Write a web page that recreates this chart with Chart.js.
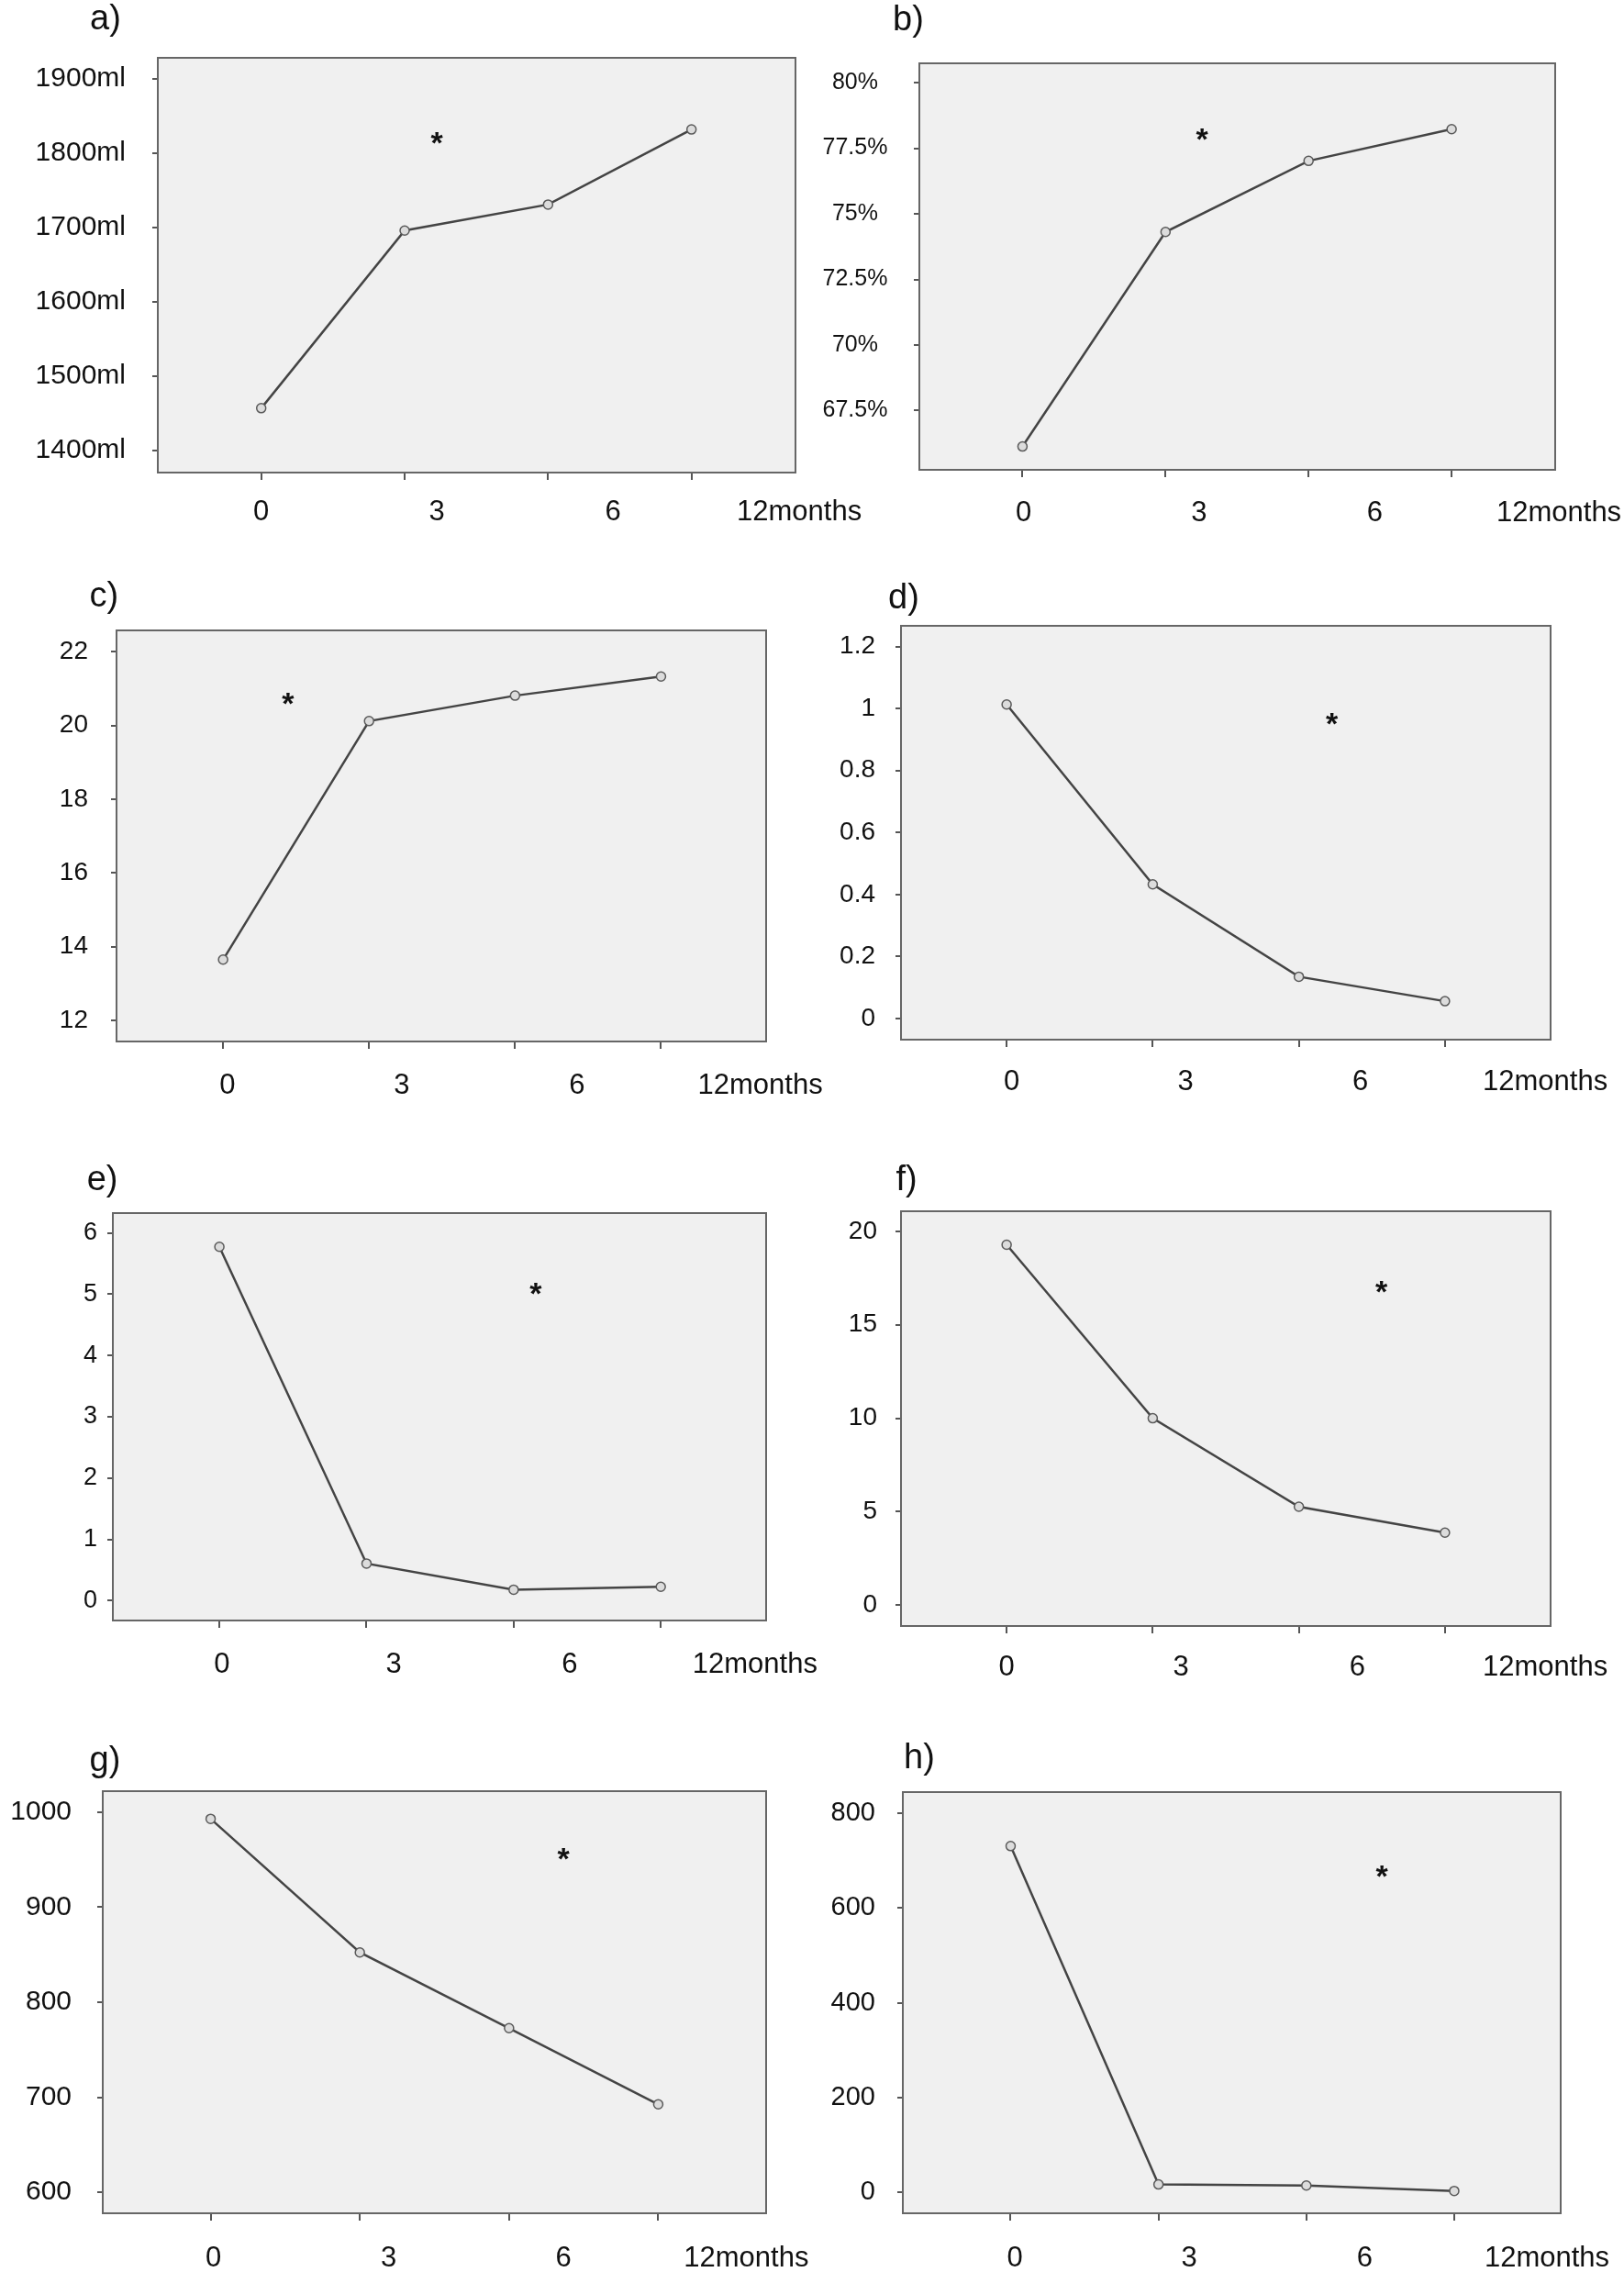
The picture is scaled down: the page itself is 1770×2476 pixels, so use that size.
<!DOCTYPE html>
<html><head><meta charset="utf-8">
<script src="https://cdn.jsdelivr.net/npm/chart.js@4.4.1/dist/chart.umd.min.js"></script>
<style>
html,body{margin:0;padding:0;background:#fff;overflow:hidden;}
#page{position:relative;width:1770px;height:2476px;overflow:hidden;background:#fff;}
canvas{position:absolute;}
.ttl{position:absolute;font-family:"Liberation Sans",Arial,sans-serif;font-size:38px;line-height:38px;color:#111;white-space:nowrap;}
</style></head><body><div id="page"></div>
<script>
// ---------- data ----------
const months = ['0', '3', '6', '12months'];
const monthIndex = [0, 1, 2, 3];

const valuesA = [1457, 1696, 1731, 1832];
const valuesB = [66.13, 74.31, 77.02, 78.23];
const valuesC = [13.65, 20.12, 20.81, 21.33];
const valuesD = [1.013, 0.433, 0.135, 0.056];
const valuesE = [5.775, 0.605, 0.178, 0.226];
const valuesF = [19.28, 10.0, 5.27, 3.885];
const valuesG = [992.9, 852.4, 772.7, 692.6];
const valuesH = [731, 16.7, 14.3, 2.9];

const yTicksA = [1400, 1500, 1600, 1700, 1800, 1900];
const yLabelsA = ['1400ml', '1500ml', '1600ml', '1700ml', '1800ml', '1900ml'];
const yTicksB = [67.5, 70, 72.5, 75, 77.5, 80];
const yLabelsB = ['67.5%', '70%', '72.5%', '75%', '77.5%', '80%'];
const yTicksC = [12, 14, 16, 18, 20, 22];
const yLabelsC = ['12', '14', '16', '18', '20', '22'];
const yTicksD = [0, 0.2, 0.4, 0.6, 0.8, 1, 1.2];
const yLabelsD = ['0', '0.2', '0.4', '0.6', '0.8', '1', '1.2'];
const yTicksE = [0, 1, 2, 3, 4, 5, 6];
const yLabelsE = ['0', '1', '2', '3', '4', '5', '6'];
const yTicksF = [0, 5, 10, 15, 20];
const yLabelsF = ['0', '5', '10', '15', '20'];
const yTicksG = [600, 700, 800, 900, 1000];
const yLabelsG = ['600', '700', '800', '900', '1000'];
const yTicksH = [0, 200, 400, 600, 800];
const yLabelsH = ['0', '200', '400', '600', '800'];

// significance marker "*" (x in month-index units, y in value units)
const starA = [1.224, 1820];
const starB = [1.256, 78.02];
const starC = [0.444, 20.72];
const starD = [2.226, 0.966];
const starE = [2.15, 5.09];
const starF = [2.565, 17.0];
const starG = [2.365, 955.7];
const starH = [2.51, 676.7];

// ---------- layout ----------
const FONT = '"Liberation Sans", Arial, sans-serif';
const panels = [
  {t:'a)', values:valuesA, yTicks:yTicksA, yLabels:yLabelsA, star:starA, yMin:1370.4, yMax:1928.4,
   colX:0, L:172, T:63, R:867, B:515, yFont:30, yPad:29, align:'near', xMin:-0.721, xMax:3.725,
   xLab:[0, 1.224, 2.452, 3.751], xPad:17, tx:98, tb:32},
  {t:'b)', values:valuesB, yTicks:yTicksB, yLabels:yLabelsB, star:starB, yMin:65.24, yMax:80.74,
   colX:880, L:1002, T:69, R:1695, B:512, yFont:25, yPad:28.6, align:'center', xMin:-0.721, xMax:3.724,
   xLab:[0.007, 1.234, 2.462, 3.75], xPad:20.4, tx:973, tb:33},
  {t:'c)', values:valuesC, yTicks:yTicksC, yLabels:yLabelsC, star:starC, yMin:11.43, yMax:22.58,
   colX:0, L:127, T:687, R:835, B:1135, yFont:28, yPad:25, align:'near', xMin:-0.73, xMax:3.72,
   xLab:[0.03, 1.224, 2.425, 3.68], xPad:21.4, tx:97.6, tb:661},
  {t:'d)', values:valuesD, yTicks:yTicksD, yLabels:yLabelsD, star:starD, yMin:-0.068, yMax:1.267,
   colX:880, L:982, T:682, R:1690, B:1133, yFont:28, yPad:22, align:'near', xMin:-0.723, xMax:3.723,
   xLab:[0.035, 1.225, 2.42, 3.686], xPad:19.4, tx:968, tb:663},
  {t:'e)', values:valuesE, yTicks:yTicksE, yLabels:yLabelsE, star:starE, yMin:-0.325, yMax:6.325,
   colX:0, L:123, T:1322, R:835, B:1766, yFont:27, yPad:11, align:'near', xMin:-0.724, xMax:3.716,
   xLab:[0.017, 1.185, 2.38, 3.64], xPad:22, tx:94.7, tb:1297},
  {t:'f)', values:valuesF, yTicks:yTicksF, yLabels:yLabelsF, star:starF, yMin:-1.11, yMax:21.07,
   colX:880, L:982, T:1320, R:1690, B:1772, yFont:28, yPad:20, align:'near', xMin:-0.723, xMax:3.723,
   xLab:[0, 1.193, 2.40, 3.686], xPad:18.4, tx:976.5, tb:1297},
  {t:'g)', values:valuesG, yTicks:yTicksG, yLabels:yLabelsG, star:starG, yMin:578, yMax:1022,
   colX:0, L:112, T:1952, R:835, B:2412, yFont:30, yPad:28, align:'near', xMin:-0.723, xMax:3.723,
   xLab:[0.018, 1.193, 2.365, 3.59], xPad:22.4, tx:97.6, tb:1930},
  {t:'h)', values:valuesH, yTicks:yTicksH, yLabels:yLabelsH, star:starH, yMin:-44.2, yMax:845,
   colX:880, L:984, T:1953, R:1701, B:2412, yFont:29, yPad:24, align:'near', xMin:-0.729, xMax:3.72,
   xLab:[0.028, 1.207, 2.394, 3.627], xPad:22.4, tx:985, tb:1927}
];

const boxPlugin = {
  id: 'box',
  beforeDraw(c) {
    const a = c.chartArea, x = c.ctx;
    x.save(); x.fillStyle = '#f0f0f0';
    x.fillRect(a.left, a.top, a.right - a.left, a.bottom - a.top); x.restore();
  },
  beforeDatasetsDraw(c) {
    const a = c.chartArea, x = c.ctx;
    x.save(); x.strokeStyle = '#666'; x.lineWidth = 2;
    x.strokeRect(a.left, a.top, a.right - a.left, a.bottom - a.top); x.restore();
  }
};
function starPlugin(pos) {
  return {
    id: 'star',
    afterDatasetsDraw(c) {
      const sx = c.scales.x.getPixelForValue(pos[0]);
      const sy = c.scales.y.getPixelForValue(pos[1]);
      const x = c.ctx;
      x.save(); x.font = 'bold 34px ' + FONT; x.fillStyle = '#111';
      x.textAlign = 'center'; x.textBaseline = 'alphabetic';
      const m = x.measureText('*');
      x.fillText('*', sx, sy + (m.actualBoundingBoxAscent - m.actualBoundingBoxDescent) / 2);
      x.restore();
    }
  };
}

function makePanel(p) {
  const page = document.getElementById('page');
  const padTop = 70, padRight = 130, xTickH = 8, xLabH = 72;
  const yW = p.L - p.colX;
  const w = yW + (p.R - p.L) + padRight;
  const h = padTop + (p.B - p.T) + xTickH + xLabH;
  const cv = document.createElement('canvas');
  cv.width = w; cv.height = h;
  cv.style.left = p.colX + 'px'; cv.style.top = (p.T - padTop) + 'px';
  cv.style.width = w + 'px'; cv.style.height = h + 'px';
  page.appendChild(cv);

  const ttl = document.createElement('div');
  ttl.className = 'ttl'; ttl.textContent = p.t;
  ttl.style.left = p.tx + 'px'; ttl.style.top = (p.tb - 32.2) + 'px';
  page.appendChild(ttl);

  new Chart(cv.getContext('2d'), {
    type: 'line',
    data: {
      datasets: [{
        data: monthIndex.map((m, i) => ({x: m, y: p.values[i]})),
        borderColor: '#444', borderWidth: 2.5, tension: 0,
        pointRadius: 5, pointBorderWidth: 1.5, pointBorderColor: '#5a5a5a',
        pointBackgroundColor: '#dcdcdc', xAxisID: 'x', yAxisID: 'y'
      }]
    },
    options: {
      responsive: false, animation: false, devicePixelRatio: 1, events: [],
      layout: {padding: {top: padTop, right: padRight, left: 0, bottom: 0}},
      plugins: {legend: {display: false}, tooltip: {enabled: false}},
      scales: {
        x: {
          type: 'linear', position: 'bottom', weight: 0, min: p.xMin, max: p.xMax,
          afterBuildTicks: s => { s.ticks = monthIndex.map(v => ({value: v})); },
          afterFit: s => { s.height = xTickH; },
          ticks: {display: false},
          grid: {display: true, drawOnChartArea: false, drawTicks: true, tickLength: xTickH, color: '#555', lineWidth: 2},
          border: {display: false}
        },
        xl: {
          type: 'linear', position: 'bottom', weight: 1, min: p.xMin, max: p.xMax,
          afterBuildTicks: s => { s.ticks = p.xLab.map(v => ({value: v})); },
          afterFit: s => { s.height = xLabH; },
          ticks: {autoSkip: false, maxRotation: 0, minRotation: 0, padding: p.xPad, color: '#111',
                  font: {family: FONT, size: 31}, callback: (v, i) => months[i]},
          grid: {display: false, drawTicks: false},
          border: {display: false}
        },
        y: {
          type: 'linear', position: 'left', min: p.yMin, max: p.yMax,
          afterBuildTicks: s => { s.ticks = p.yTicks.map(v => ({value: v})); },
          afterFit: s => { s.width = yW; },
          ticks: {autoSkip: false, padding: p.yPad, crossAlign: p.align, color: '#111',
                  font: {family: FONT, size: p.yFont}, callback: (v, i) => p.yLabels[i]},
          grid: {display: true, drawOnChartArea: false, drawTicks: true, tickLength: 6, color: '#555', lineWidth: 2},
          border: {display: false}
        }
      }
    },
    plugins: [boxPlugin, starPlugin(p.star)]
  });
}
panels.forEach(makePanel);
</script></body></html>
